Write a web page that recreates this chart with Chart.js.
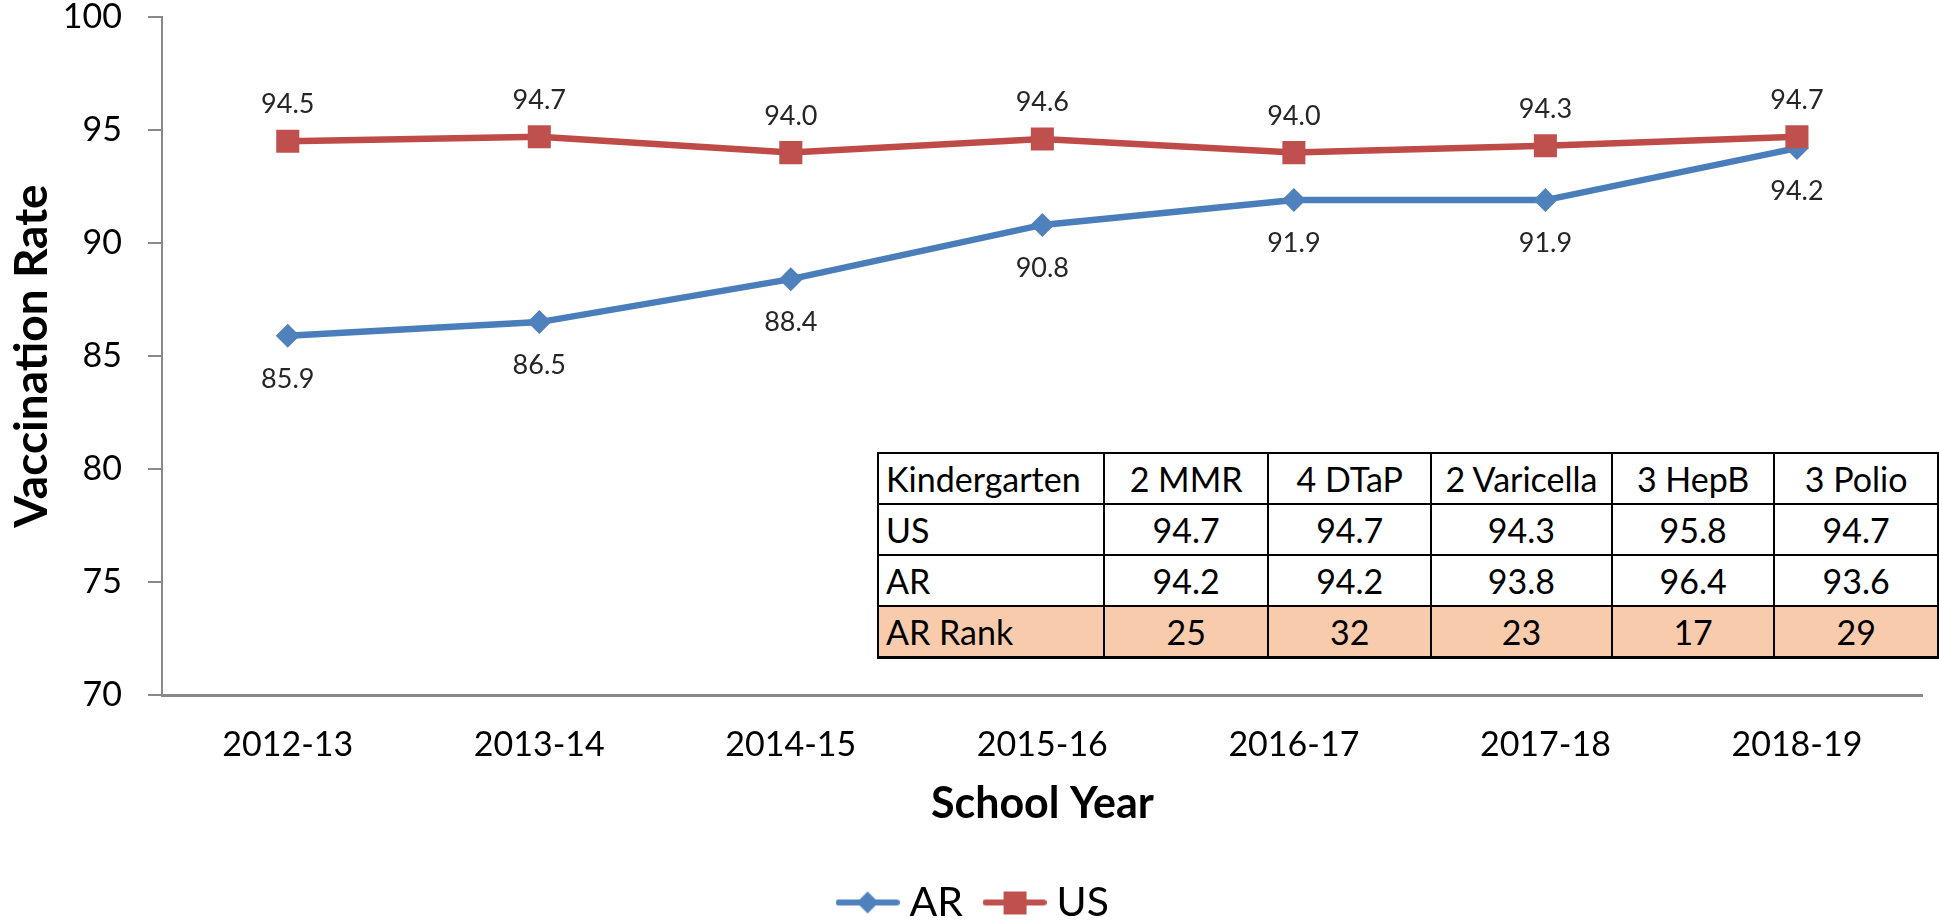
<!DOCTYPE html>
<html>
<head>
<meta charset="utf-8">
<title>Vaccination Rate</title>
<script src="https://cdn.jsdelivr.net/npm/chart.js@4.4.1/dist/chart.umd.min.js"></script>
<style>
  body { margin: 0; background: #fff; }
  #wrap { position: relative; width: 1939px; height: 921px; overflow: hidden; }
  #kgTable {
    position: absolute; left: 877px; top: 452px;
    border-collapse: collapse; table-layout: fixed;
    font-family: Lato, sans-serif; font-size: 34px; color: #000;
    background: #fff;
  }
  #kgTable td { border: 2.5px solid #000; padding: 0; text-align: center; white-space: nowrap; overflow: hidden; }
  #kgTable tr { height: 51px; }
  #kgTable td:first-child { text-align: left; padding-left: 7px; }
  #kgTable tr.rank td { background: #F8CBAD; }
  #kgTable tr:last-child td { border-bottom-width: 3.5px; }
</style>
</head>
<body>
<div id="wrap">
  <canvas id="chart" width="1939" height="921"></canvas>
  <table id="kgTable"></table>
</div>
<script>
// chart data
const schoolYears = ['2012-13', '2013-14', '2014-15', '2015-16', '2016-17', '2017-18', '2018-19'];
const arRate = [85.9, 86.5, 88.4, 90.8, 91.9, 91.9, 94.2];
const usRate = [94.5, 94.7, 94.0, 94.6, 94.0, 94.3, 94.7];
const yTicks = [70, 75, 80, 85, 90, 95, 100];

// table data
const tableHead = ['Kindergarten', '2 MMR', '4 DTaP', '2 Varicella', '3 HepB', '3 Polio'];
const tableUS = [94.7, 94.7, 94.3, 95.8, 94.7];
const tableAR = [94.2, 94.2, 93.8, 96.4, 93.6];
const tableRank = [25, 32, 23, 17, 29];

const colWidths = [226, 165, 163, 181, 163, 164];

// build the table
const table = document.getElementById('kgTable');
const cg = document.createElement('colgroup');
colWidths.forEach(w => {
  const col = document.createElement('col');
  col.style.width = w + 'px';
  cg.appendChild(col);
});
table.appendChild(cg);

function addRow(first, cells, cls) {
  const tr = document.createElement('tr');
  if (cls) tr.className = cls;
  [first].concat(cells).forEach(v => {
    const td = document.createElement('td');
    td.textContent = v;
    tr.appendChild(td);
  });
  table.appendChild(tr);
}
addRow(tableHead[0], tableHead.slice(1));
addRow('US', tableUS.map(v => v.toFixed(1)));
addRow('AR', tableAR.map(v => v.toFixed(1)));
addRow('AR Rank', tableRank, 'rank');

// legend icons: line with marker in the middle
function legendIcon(color, style) {
  const c = document.createElement('canvas');
  c.width = 64;
  c.height = 28;
  const g = c.getContext('2d');
  g.strokeStyle = color;
  g.lineWidth = 6;
  g.lineCap = 'round';
  g.beginPath();
  g.moveTo(3, 14);
  g.lineTo(61, 14);
  g.stroke();
  g.fillStyle = color;
  if (style === 'rect') {
    g.fillRect(21, 3, 23, 23);
  } else {
    g.beginPath();
    g.moveTo(32, 3);
    g.lineTo(43, 14);
    g.lineTo(32, 25);
    g.lineTo(21, 14);
    g.closePath();
    g.fill();
  }
  return c;
}
const legendIcons = [legendIcon('#4F81BD', 'diamond'), legendIcon('#C0504D', 'rect')];
const labelOffset = [42, -38]; // AR labels below, US labels above

const pointLabels = {
  id: 'pointLabels',
  afterDatasetsDraw(chart) {
    const ctx = chart.ctx;
    ctx.save();
    ctx.font = '27px Lato';
    ctx.fillStyle = '#262626';
    ctx.textAlign = 'center';
    ctx.textBaseline = 'alphabetic';
    chart.data.datasets.forEach((ds, i) => {
      const meta = chart.getDatasetMeta(i);
      meta.data.forEach((pt, j) => {
        ctx.fillText(ds.data[j].toFixed(1), pt.x, pt.y + labelOffset[i] + 10);
      });
    });
    ctx.restore();
  }
};

const ctx = document.getElementById('chart').getContext('2d');
const chart = new Chart(ctx, {
  type: 'line',
  data: {
    labels: schoolYears,
    datasets: [{
      label: 'AR',
      data: arRate,
      borderColor: '#4A7EBB',
      backgroundColor: '#4F81BD',
      borderWidth: 6.5,
      pointStyle: 'rectRot',
      pointRadius: 12,
      pointBorderWidth: 0,
      pointBackgroundColor: '#4F81BD',
      tension: 0,
      order: 1
    }, {
      label: 'US',
      data: usRate,
      borderColor: '#BE4B48',
      backgroundColor: '#C0504D',
      borderWidth: 6.5,
      pointStyle: 'rect',
      pointRadius: 16.3,
      pointBorderWidth: 0,
      pointBackgroundColor: '#C0504D',
      tension: 0,
      order: 0
    }]
  },
  options: {
    responsive: false,
    animation: false,
    devicePixelRatio: 1,
    layout: { padding: { top: 17, right: -16, bottom: -12, left: 0 } },
    plugins: {
      tooltip: { enabled: false },
      legend: {
        position: 'bottom',
        labels: {
          font: { family: 'Lato', size: 41 },
          color: '#000',
          padding: 30,
          usePointStyle: true,
          pointStyleWidth: 43,
          boxHeight: 26,
          sort: (a, b) => a.datasetIndex - b.datasetIndex,
          generateLabels(chart) {
            const items = Chart.defaults.plugins.legend.labels.generateLabels(chart);
            items.forEach(it => { it.pointStyle = legendIcons[it.datasetIndex]; });
            return items;
          }
        }
      }
    },
    scales: {
      x: {
        offset: true,
        grid: { display: true, drawOnChartArea: false, drawTicks: false },
        border: { display: true, color: '#898989', width: 3 },
        ticks: {
          font: { family: 'Lato', size: 34 },
          color: '#000',
          padding: 30,
          maxRotation: 0
        },
        title: {
          display: true,
          text: 'School Year',
          font: { family: 'Lato', size: 43, weight: 'bold' },
          color: '#000',
          padding: { top: 0, bottom: 22 }
        },
        afterFit(scale) { scale.height = 157; }
      },
      y: {
        min: 70,
        max: 100,
        afterBuildTicks(scale) { scale.ticks = yTicks.map(v => ({ value: v })); },
        grid: { drawOnChartArea: false, drawTicks: true, tickLength: 14, color: '#898989', lineWidth: 2 },
        border: { display: true, color: '#898989', width: 2 },
        ticks: {
          font: { family: 'Lato', size: 34, lineHeight: 1 },
          color: '#000',
          padding: 26
        },
        title: {
          display: true,
          text: 'Vaccination Rate',
          font: { family: 'Lato', size: 46, weight: 'bold' },
          color: '#000',
          padding: { top: 5, bottom: 0 }
        },
        afterFit(scale) {
          scale.width = 162;
          scale.paddingTop = 0;
          scale.paddingBottom = 0;
        }
      }
    }
  },
  plugins: [pointLabels]
});
</script>
</body>
</html>
